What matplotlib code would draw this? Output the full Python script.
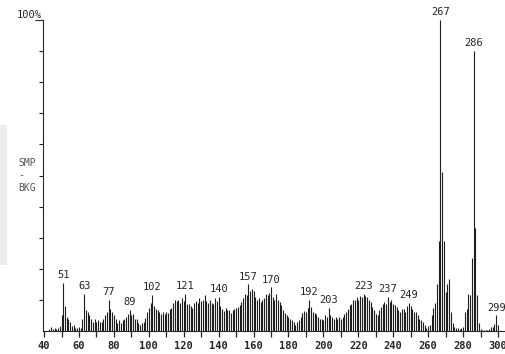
import matplotlib
matplotlib.use("Agg")
import matplotlib.pyplot as plt
from matplotlib.patches import Rectangle

# m/z from 40 to 300, relative abundance in % (SMP - BKG)
masses = list(range(40, 301))
abundance = [
    # 40-49
    0, 0, 0, 0.5, 1.2, 0.5, 1.0, 0.5, 1.0, 1.6,
    # 50-59
    5, 15.4, 8, 4.6, 4, 3, 1.5, 2, 1, 1,
    # 60-69
    1.2, 1, 4, 12, 6.7, 6, 5, 4, 3, 4,
    # 70-79
    3, 3.5, 3, 3, 4, 5, 6, 10, 7, 6,
    # 80-89
    5, 4, 2.5, 3.5, 2.5, 3.5, 4, 4.6, 5.5, 6.8,
    # 90-99
    5, 5.5, 4, 3.8, 2.7, 2, 2.7, 3, 4.3, 6,
    # 100-109
    7.5, 9, 11.5, 8, 7, 6.7, 6, 5.4, 6, 5.4,
    # 110-119
    6, 5.7, 7, 7.5, 9, 10, 9.7, 10, 9, 10.7,
    # 120-129
    9.7, 12, 8.6, 8.6, 8, 7.5, 9, 9.7, 9, 10.7,
    # 130-139
    9.7, 10, 11.5, 9.7, 9, 10, 9, 8.6, 10.6, 9.7,
    # 140-149
    11, 8, 7, 6.4, 7.3, 6.8, 6.8, 5.7, 6.8, 7,
    # 150-159
    7.3, 7.8, 8.4, 9.4, 10.5, 12, 11.6, 15, 13, 13.4,
    # 160-169
    13, 11, 10, 10.5, 9.4, 10, 10.5, 12, 11.6, 12.3,
    # 170-179
    14, 11, 10, 12, 10, 9.4, 8.4, 6.8, 5.7, 5.1,
    # 180-189
    4.6, 4, 3.5, 3, 2, 3, 3.5, 4.6, 5.7, 6.5,
    # 190-199
    6.2, 7.3, 10, 7.8, 6.2, 5.7, 5.6, 4.5, 4, 4,
    # 200-209
    3.4, 5, 4.5, 7.5, 5, 4.5, 4, 4.5, 4, 4.5,
    # 210-219
    4, 4.5, 5.6, 6.1, 7.2, 8.3, 8.8, 9.9, 10, 11,
    # 220-229
    9.9, 11.4, 11, 12, 11.2, 11, 9.9, 9.3, 7.7, 6.6,
    # 230-239
    5.6, 5, 6.6, 7.7, 8.8, 9.3, 8.8, 11, 9.3, 9.9,
    # 240-249
    8.8, 8.3, 7.7, 6.6, 6, 7.2, 7, 6, 8, 9,
    # 250-259
    8, 7, 6, 6, 5, 4, 3.5, 3, 2, 1,
    # 260-269
    1.6, 2, 5, 7.5, 9, 15, 29, 100, 51, 29,
    # 270-279
    12.5, 15, 16.7, 6, 2.7, 1.2, 1, 1, 0.8, 1,
    # 280-289
    1.2, 6, 7, 12, 11.5, 23.5, 90, 33, 11.5, 2.7,
    # 290-299
    0.5, 0.3, 0.3, 0.3, 0.3, 0.8, 1.2, 1.4, 2.2, 5,
    # 300
    2,
]

labelled = [51, 63, 77, 89, 102, 121, 140, 157, 170, 192, 203,
            223, 237, 249, 267, 286, 299]

ink = "#262626"
mono = "DejaVu Sans Mono"

fig = plt.figure(figsize=(5.06, 3.54), dpi=100)
ax = fig.add_axes([43 / 506, 23 / 354, 1 - 43 / 506, 311 / 354])

ax.vlines(masses, 0, abundance, color="#1e1e1e", linewidth=0.8)

for m in labelled:
    y = abundance[masses.index(m)]
    ax.annotate(str(m), (m, y), xytext=(0, 2), textcoords="offset points",
                ha="center", va="bottom", fontsize=7.5, family=mono,
                color=ink, annotation_clip=False)

ax.set_xlim(39.4, 304.6)
ax.set_ylim(0, 100)

for side in ("top", "right"):
    ax.spines[side].set_visible(False)
for side in ("left", "bottom"):
    ax.spines[side].set_color(ink)
    ax.spines[side].set_linewidth(0.8)

ax.set_xticks(range(40, 301, 20))
ax.set_xticks(range(50, 301, 20), minor=True)
ax.tick_params(axis="x", which="both", direction="out", length=4,
               width=0.9, color=ink, labelsize=7.5, labelcolor=ink, pad=3)
for lab in ax.get_xticklabels():
    lab.set_family(mono)
    lab.set_weight("bold")
    lab.set_clip_on(False)

ax.set_yticks(range(10, 100, 10))
ax.set_yticks([100], minor=True)
ax.tick_params(axis="y", which="major", direction="out", length=3,
               width=0.8, color=ink, labelleft=False)
ax.tick_params(axis="y", which="minor", direction="out", length=6,
               width=0.8, color=ink, labelleft=False)

fig.text(17 / 506, 1 - 15 / 354, "100%", fontsize=7.5, family=mono,
         color=ink, va="center", ha="left")
for txt, ypx in (("SMP", 163), ("-", 175), ("BKG", 188)):
    fig.text(18 / 506, 1 - ypx / 354, txt, fontsize=7, family=mono,
             color="#555555", va="center", ha="left")

# grey strip along the left edge of the sheet
fig.patches.append(Rectangle((0, 1 - 265 / 354), 7 / 506, 140 / 354,
                             transform=fig.transFigure, color="#ececec",
                             linewidth=0, zorder=0))

fig.savefig("out.png", dpi=100)
